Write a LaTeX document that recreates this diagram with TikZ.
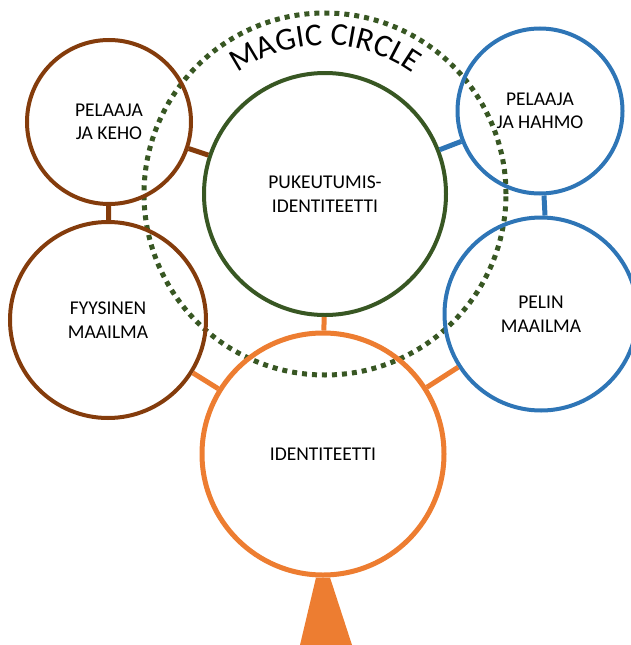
\documentclass[tikz,border=0pt]{standalone}
\usepackage{fontspec}
\setmainfont{Carlito}
\usetikzlibrary{decorations.text}
\definecolor{rust}{HTML}{843C0C}
\definecolor{moss}{HTML}{385723}
\definecolor{sky}{HTML}{2E75B6}
\definecolor{tangerine}{HTML}{ED7D31}
\tikzset{
  ring/.style={draw=#1,circle,line width=4pt,inner sep=0pt,align=center,text=black,font=\fontsize{19.5}{23.5}\selectfont},
  link/.style={draw=#1,line width=5pt},
  magic/.style={draw=moss,circle,line width=5pt,dash pattern=on 5pt off 5pt,minimum size=362pt}
}

\begin{document}
\begin{tikzpicture}[x=1pt,y=-1pt]
\path[use as bounding box] (0,0) rectangle (631,645);
\clip (0,0) rectangle (631,645);

\node[magic] (magic) at (325,194) {};
\path[decorate,decoration={text along path,text align=center,
  text={|\fontsize{32}{32}\selectfont|MAGIC CIRCLE}}]
  ([shift={(-150:149)}]magic.center) arc[start angle=-150,end angle=-30,radius=149];

\node[ring=moss,minimum size=242pt] (puku) at (325,194) {PUKEUTUMIS-\\IDENTITEETTI};
\node[ring=rust,minimum size=164pt] (keho) at (109,122) {PELAAJA\\JA KEHO};
\node[ring=rust,minimum size=196pt] (fyys) at (108,320) {FYYSINEN\\MAAILMA};
\node[ring=sky,minimum size=165pt] (hahmo) at (540,111) {PELAAJA\\JA HAHMO};
\node[ring=sky,minimum size=193pt] (pelin) at (541,314) {PELIN\\MAAILMA};
\node[ring=tangerine,line width=5pt,minimum size=242pt] (ident) at (323,454) {IDENTITEETTI};

\draw[link=rust] (keho) -- (fyys);
\draw[link=rust] (keho) -- (puku);
\draw[link=sky] (puku) -- (hahmo);
\draw[link=sky] ([xshift=4pt]hahmo.south) -- ([xshift=4pt]pelin.north);
\draw[link=tangerine] (puku) -- (ident);
\draw[link=tangerine] (fyys) -- (ident);
\draw[link=tangerine] (pelin) -- (ident);

\fill[tangerine] ([xshift=-7pt]ident.south) -- ([xshift=7pt]ident.south) -- (352,645) -- (300,645) -- cycle;

\end{tikzpicture}
\end{document}
